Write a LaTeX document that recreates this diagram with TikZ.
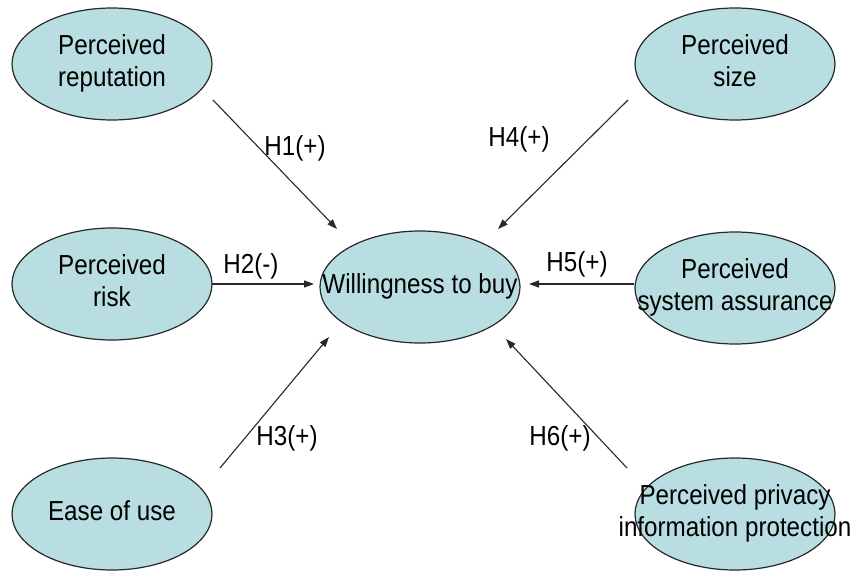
\documentclass[tikz,border=0pt]{standalone}
\usepackage{fontspec}
\setmainfont{Liberation Sans}
\newfontfamily\labfont[FakeStretch=0.88]{Liberation Sans}
\usetikzlibrary{shapes.geometric,arrows.meta}
\definecolor{ellfill}{RGB}{185,222,226}
\definecolor{ellline}{RGB}{40,40,40}
\newcommand{\ctext}[1]{\makebox[0pt]{\begin{tabular}{@{}c@{}}#1\end{tabular}}}
\tikzset{
  construct/.style={ellipse,draw=ellline,line width=1.2pt,fill=ellfill,
    minimum width=200pt,minimum height=112pt,inner sep=0pt,
    font=\labfont\fontsize{27.5}{32}\selectfont},
  hyp/.style={-{Triangle[length=10pt,width=7pt]},line width=1.1pt,draw=ellline},
  hlabel/.style={font=\labfont\fontsize{27.5}{32}\selectfont,inner sep=0pt}
}
\begin{document}
\begin{tikzpicture}[x=1pt,y=-1pt]
\useasboundingbox (0,0) rectangle (856,572);
\fill[white] (0,0) rectangle (856,572);
\node[construct] (rep) at (112,64) {\ctext{Perceived\\reputation}};
\node[construct] (size) at (735,64) {\ctext{Perceived\\size}};
\node[construct] (risk) at (112,284) {\ctext{Perceived\\risk}};
\node[construct] (will) at (420,287) {\ctext{Willingness to buy}};
\node[construct] (sys) at (735,288) {\ctext{Perceived\\system assurance}};
\node[construct] (ease) at (112,514) {\ctext{Ease of use}};
\node[construct] (priv) at (735,514) {\ctext{Perceived privacy\\information protection}};
% connector endpoints
\coordinate (repout) at (213,100);
\coordinate (repin) at (337,229);
\coordinate (sizeout) at (628,100);
\coordinate (sizein) at (498,229);
\coordinate (riskout) at (212,284);
\coordinate (riskin) at (314,284);
\coordinate (sysout) at (634,284);
\coordinate (sysin) at (529,284);
\coordinate (easeout) at (220,468);
\coordinate (easein) at (329,337);
\coordinate (privout) at (627,468);
\coordinate (privin) at (506,339);
\draw[hyp] (repout) -- (repin);
\draw[hyp] (sizeout) -- (sizein);
\draw[hyp] (riskout) -- (riskin);
\draw[hyp] (sysout) -- (sysin);
\draw[hyp] (easeout) -- (easein);
\draw[hyp] (privout) -- (privin);
\node[hlabel] (h1) at (295,148) {H1(+)};
\node[hlabel] (h4) at (519,139) {H4(+)};
\node[hlabel] (h2) at (251,266) {H2(-)};
\node[hlabel] (h5) at (577,264) {H5(+)};
\node[hlabel] (h3) at (287,438) {H3(+)};
\node[hlabel] (h6) at (560,438) {H6(+)};
\end{tikzpicture}
\end{document}
